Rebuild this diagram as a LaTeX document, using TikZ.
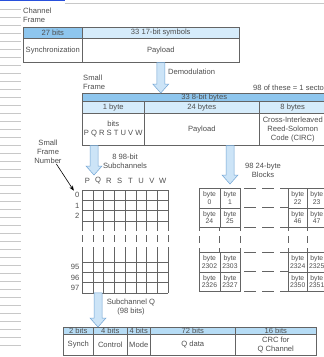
\documentclass[tikz,border=0pt]{standalone}
\usepackage{fontspec}
\setmainfont{Liberation Sans}
\usetikzlibrary{arrows.meta,calc,positioning}
\definecolor{hdark}{RGB}{142,198,238}
\definecolor{hlight}{RGB}{214,236,251}
\definecolor{hmid}{RGB}{182,220,245}
\definecolor{arrowfill}{RGB}{204,228,247}
\definecolor{arrowedge}{RGB}{112,164,212}
\definecolor{rulegray}{RGB}{100,100,100}
\definecolor{txtgray}{RGB}{78,78,78}
\definecolor{margingray}{RGB}{200,200,200}
\definecolor{linkblue}{RGB}{40,80,220}

\tikzset{
  tcell/.style={draw=rulegray, line width=0.5pt, inner sep=0pt, anchor=north west, align=center},
  bytecell/.style={tcell, minimum height=19.5pt, font=\fontsize{6.8}{7.4}\selectfont},
  gridline/.style={draw=rulegray, line width=0.5pt},
  gapline/.style={gridline, dash pattern=on 12pt off 6pt},
  blockarrow/.style={draw=arrowedge, fill=arrowfill, line width=0.5pt,
    to path={let \p1=(\tikztostart), \p2=(\tikztotarget) in
      (\x1-4pt,\y1) -- (\x1-4pt,\y2+9pt) -- (\x1-8pt,\y2+9pt) -- (\x1,\y2)
      -- (\x1+8pt,\y2+9pt) -- (\x1+4pt,\y2+9pt) -- (\x1+4pt,\y1) -- cycle}}
}

\begin{document}
\begin{tikzpicture}[x=1pt, y=-1pt, >=Stealth, every node/.style={font=\fontsize{7.6}{9}\selectfont, text=txtgray}]
    \useasboundingbox (0,0) rectangle (324,357);
    \clip (0,0) rectangle (324,357);
    \fill[white] (0,0) rectangle (324,357);

    % Margin
    \draw[linkblue, line width=1.3pt] (0,0.7) -- (65,0.7);
    \draw[margingray] (65,3.5) -- (324,3.5);
    \foreach \k in {0,...,42}
        \draw[margingray, line width=0.6pt] (0,9+8*\k) -- (21,9+8*\k);

    % Channel frame
    \node[anchor=west, align=left, inner sep=0pt] (chlabel) at (23,15) {Channel\\Frame};
    \node[tcell, fill=hdark, minimum width=59pt, minimum height=11pt] (bits27) at (23,27) {27 bits};
    \node[tcell, fill=hlight, minimum width=157pt, minimum height=11pt] (sym33) at (82,27) {33 17-bit symbols};
    \node[tcell, minimum width=59pt, minimum height=24pt] (sync) at (23,38) {Synchronization};
    \node[tcell, minimum width=157pt, minimum height=24pt] (payload) at (82,38) {Payload};

    % Demodulation
    \node[anchor=west, inner sep=0pt] (demod) at (168,72) {Demodulation};
    \node[anchor=west, align=left, inner sep=0pt] (sflabel) at (83,82) {Small\\Frame};
    \node[anchor=west, inner sep=0pt] (sector) at (253,88) {98 of these = 1 sector};

    % Small frame
    \node[tcell, fill=hdark, minimum width=244pt, minimum height=8pt] (bytes33) at (82,93) {33 8-bit bytes};
    \node[tcell, fill=hlight, minimum width=62pt, minimum height=12pt] (byte1) at (82,101) {1 byte};
    \node[tcell, fill=hlight, minimum width=115pt, minimum height=12pt] (bytes24) at (144,101) {24 bytes};
    \node[tcell, fill=hlight, minimum width=67pt, minimum height=12pt] (bytes8) at (259,101) {8 bytes};
    \node[tcell, minimum width=62pt, minimum height=32pt] (bitscell) at (82,113) {bits\\P Q R S T U V W};
    \node[tcell, minimum width=115pt, minimum height=32pt] (payload2) at (144,113) {Payload};
    \node[tcell, minimum width=67pt, minimum height=32pt] (circ) at (259,113) {Cross-Interleaved\\Reed-Solomon\\Code (CIRC)};

    \draw[blockarrow] (payload.south) to (payload.south |- bytes33.north);

    % Subchannels
    \coordinate (subtip) at (94,175);
    \draw[blockarrow] (bitscell.south -| subtip) to (subtip);
    \node[align=center, inner sep=0pt] (sublabel) at (125,161) {8 98-bit\\Subchannels};
    \node[align=center, inner sep=0pt] (sfn) at (48,152) {Small\\Frame\\Number};

    \foreach \l [count=\i from 0] in {P,Q,R,S,T,U,V,W}
        \node[inner sep=0pt] (col\l) at (87.4+10.75*\i,181) {\l};
    \foreach \n/\yy in {0/195.2,1/205.5,2/215.8,95/267.2,96/277.5,97/287.8}
        \node[anchor=east, inner sep=0pt] (row\n) at (79.5,\yy) {\n};
    \draw[-{Stealth[length=5pt,width=4pt]}, black, line width=0.6pt, shorten >=2pt] (sfn.-55) -- (row0.north west);

    \foreach \i in {0,...,8} {
        \draw[gridline] (82+10.75*\i,190) -- (82+10.75*\i,231);
        \draw[gridline] (82+10.75*\i,235) -- (82+10.75*\i,242);
        \draw[gridline] (82+10.75*\i,247) -- (82+10.75*\i,292.9);
    }
    \foreach \yy in {190,200.3,210.6,220.9,262,272.3,282.6,292.9}
        \draw[gridline] (82,\yy) -- (168,\yy);

    % 24-byte blocks
    \coordinate (blocktip) at (230,184);
    \draw[blockarrow] (payload2.south -| blocktip) to (blocktip);
    \node[align=center, inner sep=0pt] (blocklabel) at (263,170) {98 24-byte\\Blocks};

    \foreach \yy/\na/\nb/\nc/\nd in {188/0/1/22/23, 207.5/24/25/46/47, 252/2302/2303/2324/2325, 271.5/2326/2327/2350/2351} {
        \node[bytecell, minimum width=20.5pt] (b\na) at (199,\yy) {byte\\\na};
        \node[bytecell, minimum width=20.5pt] (b\nb) at (219.5,\yy) {byte\\\nb};
        \node[bytecell, minimum width=19pt] (b\nc) at (288,\yy) {byte\\\nc};
        \node[bytecell, minimum width=19pt] (b\nd) at (307,\yy) {byte\\\nd};
    }
    \foreach \yy in {188,207.5,227,252,271.5,291}
        \draw[gapline] (244,\yy) -- (288,\yy);
    \foreach \xx in {199,219.5,240,288,307,326} {
        \draw[gridline] (\xx,227) -- (\xx,231);
        \draw[gridline] (\xx,236) -- (\xx,243);
        \draw[gridline] (\xx,248) -- (\xx,252);
    }

    % Subchannel Q
    \coordinate (qtop) at (98,292.9);
    \node[align=center, inner sep=0pt] (qlabel) at (131,307) {Subchannel Q\\(98 bits)};
    \node[tcell, fill=hmid, minimum width=30pt, minimum height=7pt] (h2) at (63,327) {2 bits};
    \node[tcell, fill=hmid, minimum width=34pt, minimum height=7pt] (h4a) at (93,327) {4 bits};
    \node[tcell, fill=hmid, minimum width=23pt, minimum height=7pt] (h4b) at (127,327) {4 bits};
    \node[tcell, fill=hmid, minimum width=85pt, minimum height=7pt] (h72) at (150,327) {72 bits};
    \node[tcell, fill=hmid, minimum width=81pt, minimum height=7pt] (h16) at (235,327) {16 bits};
    \node[tcell, minimum width=30pt, minimum height=21pt] (synch) at (63,334) {Synch};
    \node[tcell, minimum width=34pt, minimum height=21pt] (control) at (93,334) {Control};
    \node[tcell, minimum width=23pt, minimum height=21pt] (mode) at (127,334) {Mode};
    \node[tcell, minimum width=85pt, minimum height=21pt] (qdata) at (150,334) {Q data};
    \node[tcell, minimum width=81pt, minimum height=21pt] (crc) at (235,334) {CRC for\\Q Channel};
    \draw[blockarrow] (qtop) to (qtop |- h4a.north);
\end{tikzpicture}
\end{document}
